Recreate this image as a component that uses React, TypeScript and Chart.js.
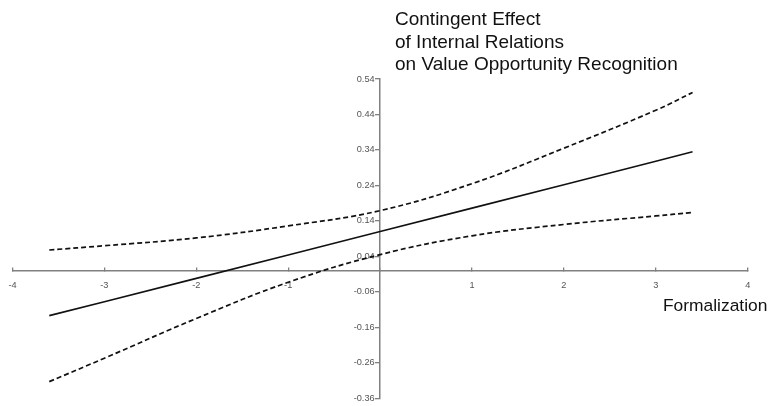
import { useEffect, useRef } from 'react';
import { Chart, registerables } from 'chart.js';

Chart.register(...registerables);

const xValues = [-3.6, -3, -2, -1, 0, 1, 2, 3, 3.4];
const effect = [-0.127, -0.088, -0.022, 0.044, 0.11, 0.176, 0.242, 0.308, 0.335];
const upperBound = [0.058, 0.07, 0.092, 0.126, 0.169, 0.245, 0.345, 0.452, 0.502];
const lowerBound = [-0.313, -0.247, -0.135, -0.033, 0.045, 0.098, 0.13, 0.154, 0.164];
const xTicks = [-4, -3, -2, -1, 0, 1, 2, 3, 4];
const yTicks = [-0.36, -0.26, -0.16, -0.06, 0.04, 0.14, 0.24, 0.34, 0.44, 0.54];
const titleLines = ['Contingent Effect', 'of Internal Relations', 'on Value Opportunity Recognition'];
const xAxisTitle = 'Formalization';

const FONT = "'Liberation Sans', Arial, sans-serif";

const textPlugin = {
  id: 'texts',
  beforeDatasetsDraw(chart: any) {
    const ctx = chart.ctx;
    const ys = chart.scales.y;
    const xs = chart.scales.x;
    const axisX = xs.getPixelForValue(0);
    ctx.save();
    ctx.fillStyle = '#555';
    ctx.font = `9.2px ${FONT}`;
    ctx.textAlign = 'right';
    ctx.textBaseline = 'middle';
    yTicks.forEach((v) => ctx.fillText(v.toFixed(2), axisX - 5.5, ys.getPixelForValue(v)));
    ctx.restore();
  },
  afterDraw(chart: any) {
    const ctx = chart.ctx;
    ctx.save();
    ctx.fillStyle = '#111';
    ctx.textAlign = 'left';
    ctx.textBaseline = 'alphabetic';
    ctx.font = `19px ${FONT}`;
    titleLines.forEach((t, i) => ctx.fillText(t, 395, 25 + i * 22.7));
    ctx.font = `17.4px ${FONT}`;
    ctx.fillText(xAxisTitle, 663, 310.5);
    ctx.restore();
  },
};

function pts(ys: number[]) {
  return xValues.map((x, i) => ({ x, y: ys[i] }));
}

export default function App() {
  const ref = useRef<HTMLCanvasElement>(null);
  useEffect(() => {
    if (!ref.current) return;
    const chart = new Chart(ref.current, {
      type: 'line',
      data: {
        datasets: [
          { data: pts(upperBound), borderColor: '#111', borderWidth: 1.7, borderDash: [5, 3], pointRadius: 0, tension: 0.4 },
          { data: pts(effect), borderColor: '#111', borderWidth: 1.6, pointRadius: 0, tension: 0 },
          { data: pts(lowerBound), borderColor: '#111', borderWidth: 1.7, borderDash: [5, 3], pointRadius: 0, tension: 0.4 },
        ],
      },
      options: {
        animation: false,
        responsive: false,
        devicePixelRatio: 1,
        layout: { padding: { left: 12.5, right: 23.3, top: 79, bottom: 7.7 } },
        plugins: { legend: { display: false }, tooltip: { enabled: false }, title: { display: false } },
        scales: {
          x: {
            type: 'linear',
            position: { y: 0 } as any,
            min: -4,
            max: 4,
            afterBuildTicks: (s: any) => { s.ticks = xTicks.map((v) => ({ value: v })); },
            afterFit: (s: any) => { s.paddingLeft = 4; s.paddingRight = 4; },
            ticks: {
              color: '#555',
              font: { family: FONT, size: 9.2 },
              padding: 13,
              maxRotation: 0,
              autoSkip: false,
              callback: (v: any) => (v === 0 ? '' : String(v)),
            },
            grid: { drawOnChartArea: false, tickLength: -4, color: '#808080', lineWidth: 1.3 },
            border: { color: '#808080', width: 1.5 },
          },
          y: {
            type: 'linear',
            position: { x: 0 } as any,
            min: -0.36,
            max: 0.54,
            afterBuildTicks: (s: any) => { s.ticks = yTicks.map((v) => ({ value: v })); },
            ticks: { display: false },
            grid: { drawOnChartArea: false, tickLength: 4, color: '#808080', lineWidth: 1.3 },
            border: { color: '#808080', width: 1.5 },
          },
        },
      },
      plugins: [textPlugin],
    });
    return () => chart.destroy();
  }, []);
  return (
    <div style={{ position: 'absolute', left: 0, top: 0, width: 771, height: 406, background: '#fff' }}>
      <canvas ref={ref} width={771} height={406} style={{ display: 'block' }} />
    </div>
  );
}
